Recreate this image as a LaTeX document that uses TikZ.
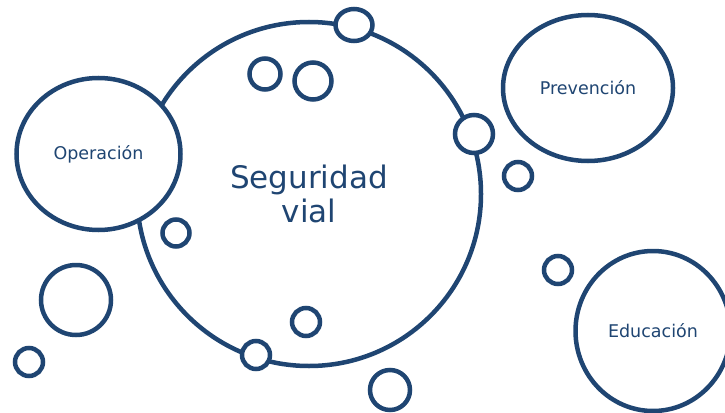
\documentclass[tikz,border=0pt]{standalone}
\usepackage{fontspec}
\setmainfont{DejaVu Sans}
\usetikzlibrary{shapes.geometric}

\definecolor{roadblue}{HTML}{1F4572}

\tikzset{%
  every bubble/.style={
    ellipse,
    draw=roadblue,
    fill=white,
    line width=4.5pt,
    inner sep=0pt
  },
  main topic/.style={
    circle,
    draw=roadblue,
    line width=4.5pt,
    minimum size=344pt,
    align=center,
    text=roadblue,
    font=\fontsize{31}{34}\selectfont
  },
  sub topic/.style={
    every bubble,
    text=roadblue,
    font=\fontsize{17.5}{20}\selectfont
  },
}

\begin{document}
\begin{tikzpicture}[x=1pt, y=-1pt]
\useasboundingbox (0,0) rectangle (725,412);

\node [main topic] (seguridad) at (309,194) {Seguridad\\vial};

\node [sub topic, minimum width=164pt, minimum height=152pt] (operacion) at (98.5,154) {Operación};
\node [sub topic, minimum width=170pt, minimum height=146pt] (prevencion) at (588,88) {Prevención};
\node [sub topic, minimum width=155pt, minimum height=160pt] (educacion) at (653,331) {Educación};

\foreach \x/\y/\w/\h [count=\i] in {354/25/37/32, 265/74/31/31, 313/81/37/37,
    474/134/38/38, 518/176/28/28, 176/233/27/27, 76/300/70/70, 29/362/28/28,
    256/355/28/28, 306/322/28/28, 558/270/28/28, 390/390/40/40}
  \node [every bubble, minimum width=\w pt, minimum height=\h pt] (bubble-\i) at (\x,\y) {};

\end{tikzpicture}
\end{document}
